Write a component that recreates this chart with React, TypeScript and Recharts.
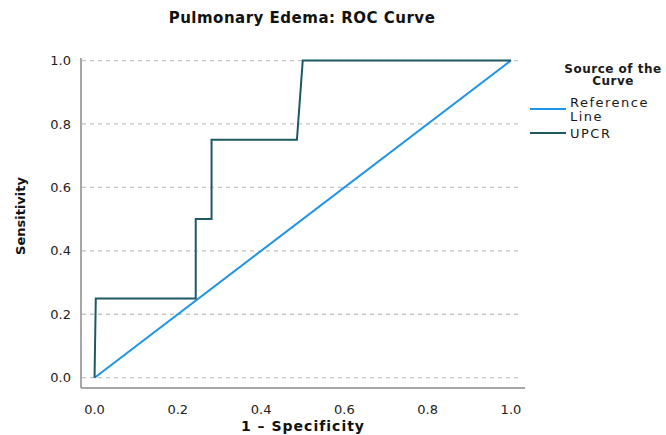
import { LineChart, Line, XAxis, YAxis, ReferenceLine, Legend } from 'recharts';

// ROC points
const upcrFpr = [0, 0.003, 0.243, 0.243, 0.281, 0.281, 0.486, 0.5, 1];
const upcrTpr = [0, 0.25, 0.25, 0.5, 0.5, 0.75, 0.75, 1, 1];
const refFpr = [0, 1];
const refTpr = [0, 1];
const axisTicks = [0, 0.2, 0.4, 0.6, 0.8, 1];

const REF_COLOR = '#1f93e6';
const UPCR_COLOR = '#1d5965';
const FONT = '"DejaVu Sans", Verdana, sans-serif';

const upcrData = upcrFpr.map((x, i) => ({ x, y: upcrTpr[i] }));
const refData = refFpr.map((x, i) => ({ x, y: refTpr[i] }));

function renderLegend(props: any) {
  const payload = props.payload || [];
  const ref = payload.find((p: any) => p.value === 'Reference Line');
  const upcr = payload.find((p: any) => p.value === 'UPCR');
  const itemText = { position: 'absolute' as const, left: 45, width: 96, fontSize: 13, lineHeight: '14px', letterSpacing: 1.5 };
  return (
    <div style={{ position: 'relative', width: 141, height: 100, fontFamily: FONT, color: '#1a1a1a' }}>
      <div style={{
        position: 'absolute', left: 30, top: 7.8, width: 116, textAlign: 'center',
        fontSize: 12, fontWeight: 'bold', lineHeight: '12.5px', letterSpacing: 0.5,
      }}>
        Source of the<br />Curve
      </div>
      {/* Reference line entry */}
      <div style={{ position: 'absolute', left: 5, top: 53, width: 36, height: 2, background: ref?.color || REF_COLOR }} />
      <div style={{ ...itemText, top: 40.5 }}>Reference<br />Line</div>
      {/* UPCR entry */}
      <div style={{ position: 'absolute', left: 5, top: 77, width: 36, height: 2, background: upcr?.color || UPCR_COLOR }} />
      <div style={{ ...itemText, top: 71.5 }}>UPCR</div>
    </div>
  );
}

export default function App() {
  return (
    <div style={{ position: 'absolute', left: 0, top: 0, width: 666, height: 435, background: '#fff', fontFamily: FONT }}>
      {/* title */}
      <div style={{
        position: 'absolute', left: 0, top: 8.8, width: 604, textAlign: 'center',
        fontSize: 15, fontWeight: 'bold', lineHeight: '18px', letterSpacing: 0.5, color: '#111',
      }}>
        Pulmonary Edema: ROC Curve
      </div>
      <LineChart width={666} height={435} margin={{ top: 58, right: 0, bottom: 0, left: 0 }}>
        <XAxis
          type="number"
          dataKey="x"
          domain={[-0.0325, 1.0337]}
          allowDataOverflow
          ticks={axisTicks}
          tickFormatter={(v: number) => v.toFixed(1)}
          tickLine={false}
          tickMargin={11}
          height={47}
          stroke="#8a8a8a"
          strokeWidth={1.5}
          tick={{ fill: '#222', fontSize: 13, fontFamily: FONT }}
          label={() => (
            <text x={303} y={431} textAnchor="middle" fontFamily={FONT} fontSize={14} fontWeight="bold" letterSpacing={1} fill="#111">
              1 – Specificity
            </text>
          )}
        />
        <YAxis
          type="number"
          dataKey="y"
          domain={[-0.0325, 1.008]}
          allowDataOverflow
          ticks={axisTicks}
          tickFormatter={(v: number) => v.toFixed(1)}
          tickLine={false}
          tickMargin={4}
          width={81}
          stroke="#8a8a8a"
          strokeWidth={1.5}
          tick={{ fill: '#222', fontSize: 13, fontFamily: FONT }}
          label={() => (
            <text x={24.5} y={216} transform="rotate(-90, 24.5, 216)" textAnchor="middle" fontFamily={FONT} fontSize={13} fontWeight="bold" fill="#111">
              Sensitivity
            </text>
          )}
        />
        {/* dashed horizontal grid, ending short of the right edge as in the reference */}
        {axisTicks.map((t) => (
          <ReferenceLine
            key={t}
            segment={[{ x: -0.03, y: t }, { x: 1.022, y: t }]}
            stroke="#c4c4c4"
            strokeWidth={1.3}
            strokeDasharray="4 4"
          />
        ))}
        <Legend
          layout="vertical"
          align="right"
          verticalAlign="top"
          width={141}
          height={100}
          wrapperStyle={{ top: 55, right: 0 }}
          content={renderLegend}
        />
        <Line
          data={refData}
          dataKey="y"
          name="Reference Line"
          type="linear"
          stroke={REF_COLOR}
          strokeWidth={2}
          dot={false}
          activeDot={false}
          isAnimationActive={false}
        />
        <Line
          data={upcrData}
          dataKey="y"
          name="UPCR"
          type="linear"
          stroke={UPCR_COLOR}
          strokeWidth={2}
          dot={false}
          activeDot={false}
          isAnimationActive={false}
        />
      </LineChart>
    </div>
  );
}
